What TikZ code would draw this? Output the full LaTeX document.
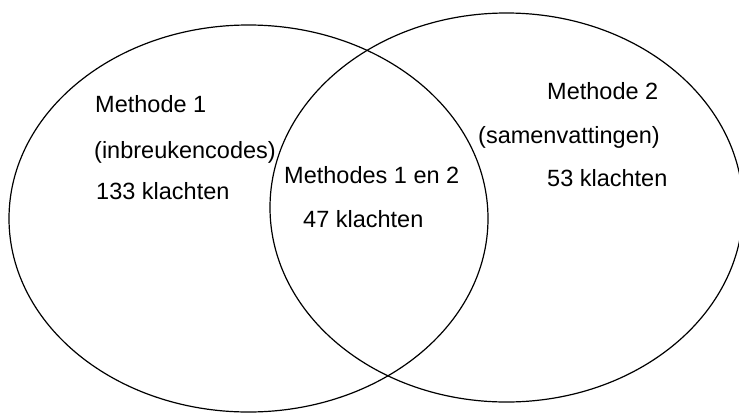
\documentclass[tikz,border=0pt]{standalone}
\usepackage{fontspec}
\setmainfont{Liberation Sans}
\begin{document}
\begin{tikzpicture}[x=1pt,y=-1pt,
  lbl/.style={anchor=base west,inner sep=0pt,font=\fontsize{23.5}{27}\selectfont},
  set/.style={draw=black,line width=1.2pt}]
\useasboundingbox (0,0) rectangle (739,413);
\draw[set] (248.5,218.5) ellipse [x radius=239.5, y radius=193.5];
\draw[set] (506.5,207.5) ellipse [x radius=236.5, y radius=194.5];
\node[lbl] (m1) at (95,112.7) {Methode 1};
\node[lbl] (m1b) at (94,158) {(inbreukencodes)};
\node[lbl] (m1c) at (96,199) {133 klachten};
\node[lbl] (m12) at (284,183) {Methodes 1 en 2};
\node[lbl] (m12b) at (303,227) {47 klachten};
\node[lbl] (m2) at (547,99) {Methode 2};
\node[lbl] (m2b) at (478,143) {(samenvattingen)};
\node[lbl] (m2c) at (547,186) {53 klachten};
\end{tikzpicture}
\end{document}
